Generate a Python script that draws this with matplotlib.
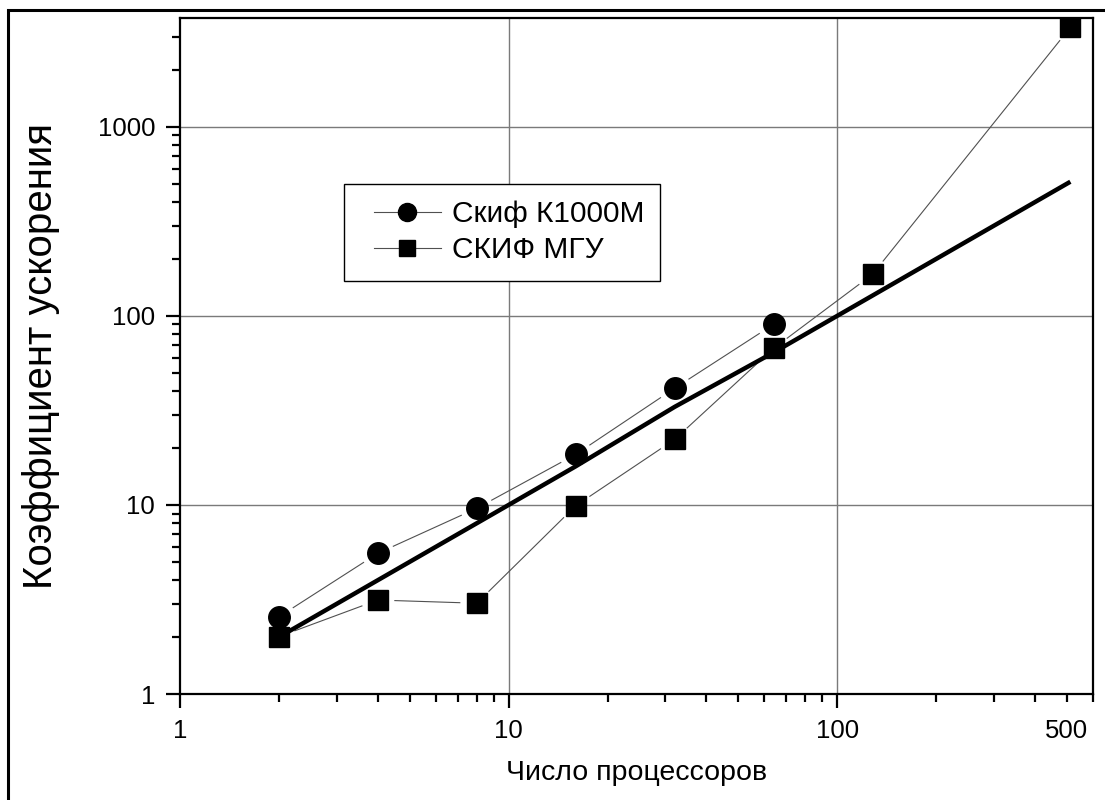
import numpy as np
import matplotlib
matplotlib.use("Agg")
import matplotlib.pyplot as plt
from matplotlib.ticker import FixedLocator, FuncFormatter, NullFormatter
from matplotlib.patches import Rectangle
from matplotlib.lines import Line2D
from matplotlib.legend_handler import HandlerLine2D

plt.rcParams['font.family'] = ['Liberation Sans', 'DejaVu Sans']

# ---- data ----
skif_k_x = [2, 4, 8, 16, 32, 64]
skif_k_y = [2.56, 5.55, 9.6, 18.5, 41.4, 90.2]
skif_mgu_x = [2, 4, 8, 16, 32, 64, 128, 512]
skif_mgu_y = [2.01, 3.14, 3.02, 9.9, 22.2, 67.3, 165.8, 3355]
ideal_x = [2, 4, 8, 16, 32, 64, 128, 512]
ideal_y = [2, 4, 8, 16, 33, 64, 128, 512]
label_k = "Скиф К1000М"
label_mgu = "СКИФ МГУ"
xlabel = "Число процессоров"
ylabel = "Коэффициент ускорения"
x_major = [1, 10, 100]
y_major = [1, 10, 100, 1000]

W, H = 1105, 800
fig = plt.figure(figsize=(W / 100, H / 100), dpi=100)
ax = fig.add_axes([180 / W, 1 - 694 / H, (1093 - 180) / W, (694 - 18) / H])

# outer frame of the figure
fig.patches.append(Rectangle((8 / W, -0.05), 1.2, 1 - 10 / H + 0.05, transform=fig.transFigure,
                             fill=False, edgecolor='black', linewidth=2.2, zorder=0))

ax.set_xscale('log')
ax.set_yscale('log')
ax.set_xlim(1, 600)
ax.set_ylim(1, 3760)

# grid at major ticks
for v in x_major[1:]:
    ax.axvline(v, color='#7a7a7a', lw=1.0, zorder=1)
for v in y_major[1:]:
    ax.axhline(v, color='#7a7a7a', lw=1.0, zorder=1)

# ideal line
ax.plot(ideal_x, ideal_y, color='black', lw=3.2, zorder=3, solid_capstyle='butt')

fig.canvas.draw()

def gapped(xs, ys, gap=17):
    pts = ax.transData.transform(np.column_stack([xs, ys]))
    inv = ax.transData.inverted()
    for (p0, p1) in zip(pts[:-1], pts[1:]):
        d = p1 - p0
        L = np.hypot(*d)
        if L <= 2 * gap:
            continue
        u = d / L
        a = inv.transform(p0 + u * gap)
        b = inv.transform(p1 - u * gap)
        ax.plot([a[0], b[0]], [a[1], b[1]], color='#505050', lw=0.8, zorder=2)

gapped(skif_k_x, skif_k_y)
gapped(skif_mgu_x, skif_mgu_y)

ax.plot(skif_k_x, skif_k_y, ls='none', marker='o', ms=15.5, color='black', zorder=4)
ax.plot(skif_mgu_x, skif_mgu_y, ls='none', marker='s', ms=14, color='black', zorder=4)

# ticks
ax.xaxis.set_major_locator(FixedLocator(x_major))
ax.xaxis.set_major_formatter(FuncFormatter(lambda v, p: f"{v:g}"))
x_minor = [m * 10 ** k for k in range(0, 3) for m in range(2, 10) if m * 10 ** k <= 600]
ax.xaxis.set_minor_locator(FixedLocator(x_minor))
ax.xaxis.set_minor_formatter(FuncFormatter(lambda v, p: "500" if abs(v - 500) < 1e-6 else ""))
ax.yaxis.set_major_locator(FixedLocator(y_major))
ax.yaxis.set_major_formatter(FuncFormatter(lambda v, p: f"{v:g}"))
y_minor = [m * 10 ** k for k in range(0, 4) for m in range(2, 10) if m * 10 ** k <= 3760]
ax.yaxis.set_minor_locator(FixedLocator(y_minor))
ax.yaxis.set_minor_formatter(NullFormatter())

ax.tick_params(which='major', direction='out', length=10, width=1.6, labelsize=18.5, pad=8)
ax.tick_params(which='minor', direction='out', length=6, width=1.6, labelsize=18.5, pad=12)
for s in ax.spines.values():
    s.set_linewidth(1.6)

ax.set_xlabel(xlabel, fontsize=20.5)
ax.xaxis.label.set_va('center')
ax.xaxis.set_label_coords(0.5, (694 - 773) / 676)
ax.set_ylabel(ylabel, fontsize=29)
ax.yaxis.label.set_va('center')
ax.yaxis.set_label_coords((41 - 180) / 913, 0.5)


class ShiftedHandler(HandlerLine2D):
    def create_artists(self, legend, orig_handle, xdescent, ydescent, width, height, fontsize, trans):
        shift = 0.45 * fontsize
        return super().create_artists(legend, orig_handle, xdescent - shift, ydescent,
                                      width - shift, height, fontsize, trans)


handles = [
    Line2D([], [], color='#505050', lw=0.8, marker='o', ms=13, mfc='black', mec='black'),
    Line2D([], [], color='#505050', lw=0.8, marker='s', ms=11.5, mfc='black', mec='black'),
]
leg = ax.legend(handles, [label_k, label_mgu], loc='upper left',
                bbox_to_anchor=((344 - 180) / 913, (694 - 184) / 676), borderaxespad=0,
                fontsize=21.5, frameon=True, fancybox=False, framealpha=1,
                edgecolor='black', handlelength=2.7, handletextpad=0.35,
                borderpad=0.55, labelspacing=0.27,
                handler_map={Line2D: ShiftedHandler()})
leg.get_frame().set_linewidth(1.0)
leg.set_zorder(5)

fig.savefig("out.png", dpi=100, facecolor='white')
